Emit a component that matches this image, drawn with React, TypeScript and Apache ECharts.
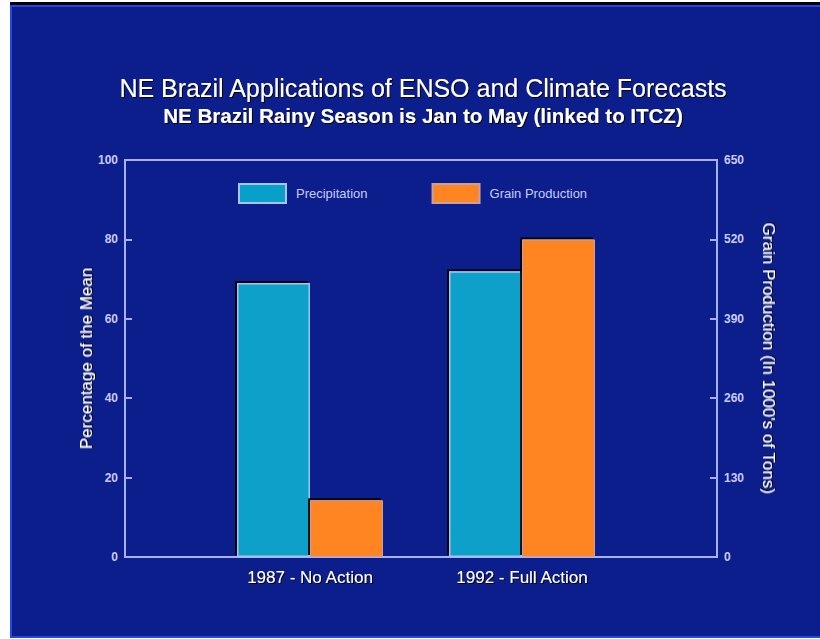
import React, { useEffect, useRef } from "react";
import * as echarts from "echarts";

const categories = ["1987 - No Action", "1992 - Full Action"];
const precipitation = [69, 72];
const grainProduction = [93, 520];
const leftTicks = { min: 0, max: 100, interval: 20 };
const rightTicks = { min: 0, max: 650, interval: 130 };

const AXIS = "#a8b0f8";
const LABEL = "#c8ccf8";
const FONT = "'Liberation Sans', Arial, sans-serif";

export default function App() {
  const ref = useRef<HTMLDivElement>(null);
  useEffect(() => {
    if (!ref.current) return;
    const chart = echarts.init(ref.current, null, { renderer: "svg" });
    const shadowText = {
      textShadowColor: "#000",
      textShadowOffsetX: 1,
      textShadowOffsetY: 1,
      textShadowBlur: 1,
    };
    chart.setOption({
      animation: false,
      backgroundColor: "#ffffff",
      textStyle: { fontFamily: FONT },
      graphic: [
        { type: "rect", z: -10, shape: { x: 10, y: 2, width: 815, height: 4 }, style: { fill: "#000000" } },
        {
          type: "rect",
          z: -10,
          shape: { x: 11, y: 6, width: 815, height: 631 },
          style: { fill: "#0c1e8c", stroke: "#2446ee", lineWidth: 2 },
        },
      ],
      title: [
        {
          text: "NE Brazil Applications of ENSO and Climate Forecasts",
          left: 418,
          top: 70,
          textAlign: "center",
          textStyle: { color: "#ffffff", fontSize: 25, fontWeight: "normal", fontFamily: FONT, ...shadowText },
        },
        {
          text: "NE Brazil Rainy Season is Jan to May (linked to ITCZ)",
          left: 418,
          top: 100,
          textAlign: "center",
          textStyle: { color: "#ffffff", fontSize: 20.5, fontWeight: "bold", fontFamily: FONT, ...shadowText },
        },
      ],
      legend: {
        left: 238,
        top: 183,
        padding: 0,
        itemWidth: 47,
        itemHeight: 19,
        itemGap: 64,
        icon: "rect",
        textStyle: { color: LABEL, fontSize: 13, fontFamily: FONT, padding: [0, 0, 0, 5] },
        data: ["Precipitation", "Grain Production"],
      },
      grid: [
        { left: 204, right: 192, top: 160, bottom: 82 },
        {
          left: 125,
          right: 103,
          top: 160,
          bottom: 82,
          show: true,
          borderColor: AXIS,
          borderWidth: 2,
          backgroundColor: "transparent",
        },
      ],
      xAxis: [
        {
          type: "category",
          gridIndex: 0,
          data: categories,
          axisLine: { show: false },
          axisTick: { show: false },
          axisLabel: { color: "#ffffff", fontSize: 17, margin: 12, fontFamily: FONT, ...shadowText },
        },
        {
          type: "category",
          gridIndex: 1,
          data: [""],
          axisLine: { show: true, lineStyle: { color: AXIS, width: 2 } },
          axisTick: { show: false },
          axisLabel: { show: false },
        },
      ],
      yAxis: [
        {
          type: "value",
          gridIndex: 1,
          position: "left",
          ...leftTicks,
          name: "Percentage of the Mean",
          nameLocation: "middle",
          nameRotate: 90,
          nameGap: 30,
          nameMoveOverlap: false,
          nameTextStyle: { color: "#ffffff", fontSize: 17, fontFamily: FONT, ...shadowText },
          axisLine: { show: true, lineStyle: { color: AXIS, width: 2 } },
          axisTick: { show: true, inside: true, length: 7, lineStyle: { color: AXIS, width: 2 } },
          axisLabel: { color: LABEL, fontSize: 12, fontWeight: "bold", margin: 7, fontFamily: FONT },
          splitLine: { show: false },
        },
        {
          type: "value",
          gridIndex: 1,
          position: "right",
          ...rightTicks,
          name: "Grain Production (In 1000's of Tons)",
          nameLocation: "middle",
          nameRotate: -90,
          nameGap: 43,
          nameTextStyle: { color: "#ffffff", fontSize: 17, fontFamily: FONT, ...shadowText },
          axisLine: { show: true, lineStyle: { color: AXIS, width: 2 } },
          axisTick: { show: true, inside: true, length: 7, lineStyle: { color: AXIS, width: 2 } },
          axisLabel: { color: LABEL, fontSize: 12, fontWeight: "bold", margin: 7, fontFamily: FONT },
          splitLine: { show: false },
        },
        { type: "value", gridIndex: 0, ...leftTicks, show: false, splitLine: { show: false } },
        { type: "value", gridIndex: 0, ...rightTicks, show: false, splitLine: { show: false } },
      ],
      series: [
        {
          name: "Precipitation",
          type: "bar",
          xAxisIndex: 0,
          yAxisIndex: 2,
          data: precipitation,
          barWidth: 73,
          barGap: "0%",
          itemStyle: {
            color: "#08a0c8",
            borderColor: "#a8c4f4",
            borderWidth: 1.5,
            shadowColor: "rgba(0,0,0,0.9)",
            shadowOffsetX: -2,
            shadowOffsetY: -2,
          },
        },
        {
          name: "Grain Production",
          type: "bar",
          xAxisIndex: 0,
          yAxisIndex: 3,
          data: grainProduction,
          barWidth: 73,
          barGap: "0%",
          itemStyle: {
            color: "#ff8422",
            borderColor: "#c8a0a0",
            borderWidth: 1,
            shadowColor: "rgba(0,0,0,0.9)",
            shadowOffsetX: -2,
            shadowOffsetY: -2,
          },
        },
      ],
    });
    return () => chart.dispose();
  }, []);
  return (
    <div
      ref={ref}
      style={{ position: "fixed", left: 0, top: 0, width: 820, height: 639 }}
    />
  );
}
